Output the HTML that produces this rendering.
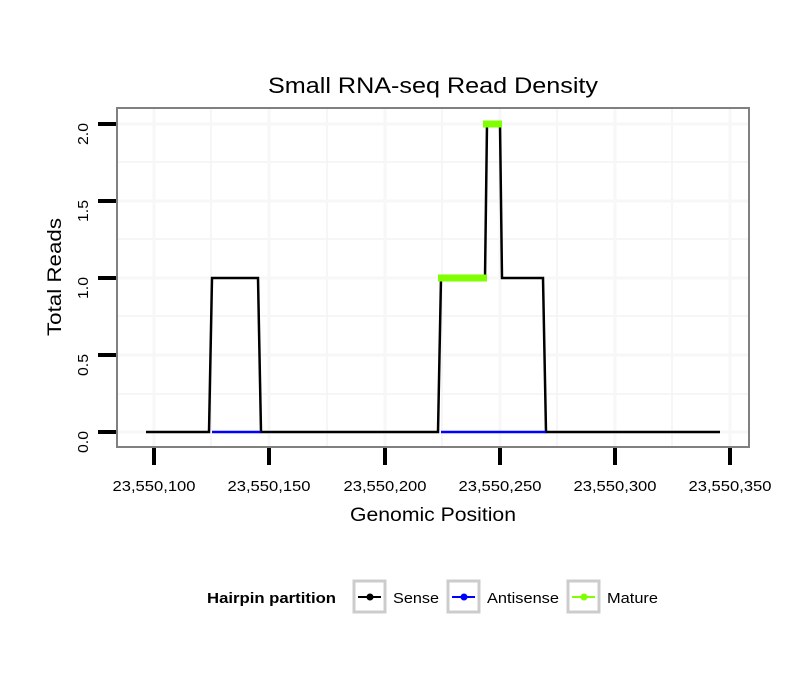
<!DOCTYPE html>
<html><head><style>body{margin:0;background:#fff}</style></head><body>
<svg width="810" height="690" xmlns="http://www.w3.org/2000/svg" font-family="Liberation Sans, sans-serif">
<rect width="810" height="690" fill="#fff"/>
<text x="268" y="93" font-size="22" textLength="330" lengthAdjust="spacingAndGlyphs">Small RNA-seq Read Density</text>
<g stroke="#f3f3f3" stroke-width="1.5">
<line x1="211" y1="108" x2="211" y2="447"/><line x1="327" y1="108" x2="327" y2="447"/><line x1="442" y1="108" x2="442" y2="447"/><line x1="557" y1="108" x2="557" y2="447"/><line x1="672" y1="108" x2="672" y2="447"/>
<line x1="117" y1="162" x2="749" y2="162"/><line x1="117" y1="239" x2="749" y2="239"/><line x1="117" y1="316" x2="749" y2="316"/><line x1="117" y1="394" x2="749" y2="394"/>
</g>
<g stroke="#f7f7f7" stroke-width="3">
<line x1="154" y1="108" x2="154" y2="447"/><line x1="269" y1="108" x2="269" y2="447"/><line x1="385" y1="108" x2="385" y2="447"/><line x1="500" y1="108" x2="500" y2="447"/><line x1="615" y1="108" x2="615" y2="447"/><line x1="730" y1="108" x2="730" y2="447"/>
<line x1="117" y1="124" x2="749" y2="124"/><line x1="117" y1="201" x2="749" y2="201"/><line x1="117" y1="278" x2="749" y2="278"/><line x1="117" y1="355" x2="749" y2="355"/><line x1="117" y1="432" x2="749" y2="432"/>
</g>
<polyline fill="none" stroke="#000" stroke-width="2.5" points="146,432 209,432 212,278 258,278 261,432 438,432 441,278 485,278 487,124 500,124 502,278 543,278 546,432 720,432"/>
<line x1="212" y1="432" x2="261" y2="432" stroke="#00f" stroke-width="2.5"/>
<line x1="441" y1="432" x2="546" y2="432" stroke="#00f" stroke-width="2.5"/>
<line x1="438" y1="278" x2="487" y2="278" stroke="#7fff00" stroke-width="7"/>
<line x1="483" y1="124" x2="502" y2="124" stroke="#7fff00" stroke-width="7"/>
<rect x="117" y="108" width="632" height="339" fill="none" stroke="#808080" stroke-width="2"/>
<g stroke="#000" stroke-width="4">
<line x1="98" y1="124" x2="116" y2="124"/><line x1="98" y1="201" x2="116" y2="201"/><line x1="98" y1="278" x2="116" y2="278"/><line x1="98" y1="355" x2="116" y2="355"/><line x1="98" y1="432" x2="116" y2="432"/>
<line x1="154" y1="448" x2="154" y2="465"/><line x1="269" y1="448" x2="269" y2="465"/><line x1="385" y1="448" x2="385" y2="465"/><line x1="500" y1="448" x2="500" y2="465"/><line x1="615" y1="448" x2="615" y2="465"/><line x1="730" y1="448" x2="730" y2="465"/>
</g>
<g font-size="15" text-anchor="middle">
<text transform="translate(88,134) rotate(-90)" textLength="22" lengthAdjust="spacingAndGlyphs">2.0</text>
<text transform="translate(88,211) rotate(-90)" textLength="22" lengthAdjust="spacingAndGlyphs">1.5</text>
<text transform="translate(88,288) rotate(-90)" textLength="22" lengthAdjust="spacingAndGlyphs">1.0</text>
<text transform="translate(88,365) rotate(-90)" textLength="22" lengthAdjust="spacingAndGlyphs">0.5</text>
<text transform="translate(88,442) rotate(-90)" textLength="22" lengthAdjust="spacingAndGlyphs">0.0</text>
</g>
<g font-size="15" text-anchor="middle">
<text x="154" y="491" textLength="83" lengthAdjust="spacingAndGlyphs">23,550,100</text>
<text x="269" y="491" textLength="83" lengthAdjust="spacingAndGlyphs">23,550,150</text>
<text x="385" y="491" textLength="83" lengthAdjust="spacingAndGlyphs">23,550,200</text>
<text x="500" y="491" textLength="83" lengthAdjust="spacingAndGlyphs">23,550,250</text>
<text x="615" y="491" textLength="83" lengthAdjust="spacingAndGlyphs">23,550,300</text>
<text x="730" y="491" textLength="83" lengthAdjust="spacingAndGlyphs">23,550,350</text>
</g>
<text x="350" y="521" font-size="19" textLength="166" lengthAdjust="spacingAndGlyphs">Genomic Position</text>
<text transform="translate(61,336) rotate(-90)" font-size="19" textLength="118" lengthAdjust="spacingAndGlyphs">Total Reads</text>
<text x="207" y="603" font-size="15" font-weight="bold" textLength="129" lengthAdjust="spacingAndGlyphs">Hairpin partition</text>
<g stroke="#ccc" stroke-width="3" fill="#fff">
<rect x="354" y="581" width="31" height="31"/><rect x="448" y="581" width="31" height="31"/><rect x="568" y="581" width="31" height="31"/>
</g>
<line x1="358" y1="597" x2="381" y2="597" stroke="#000" stroke-width="2"/><circle cx="370" cy="597" r="3.5" fill="#000"/>
<line x1="452" y1="597" x2="475" y2="597" stroke="#00f" stroke-width="2"/><circle cx="464" cy="597" r="3.5" fill="#00f"/>
<line x1="572" y1="597" x2="595" y2="597" stroke="#7fff00" stroke-width="2"/><circle cx="584" cy="597" r="3.5" fill="#7fff00"/>
<g font-size="15">
<text x="393" y="603" textLength="46" lengthAdjust="spacingAndGlyphs">Sense</text>
<text x="487" y="603" textLength="72" lengthAdjust="spacingAndGlyphs">Antisense</text>
<text x="607" y="603" textLength="51" lengthAdjust="spacingAndGlyphs">Mature</text>
</g>
</svg>
</body></html>
